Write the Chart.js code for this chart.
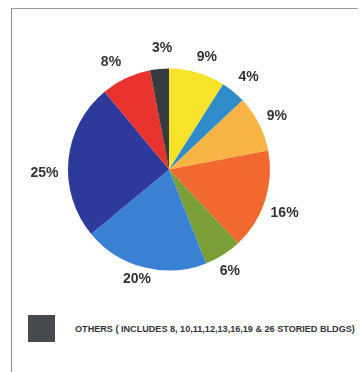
<!DOCTYPE html>
<html>
<head>
<meta charset="utf-8">
<script src="https://cdn.jsdelivr.net/npm/chart.js@4/dist/chart.umd.min.js"></script>
<style>
    body { margin: 0; background: #fff; }
    #wrap { position: relative; width: 360px; height: 372px; overflow: hidden; }
    #frame {
        position: absolute; left: 11px; top: 8px; width: 346px; height: 370px;
        border-top: 1px solid #9a9aa4; border-left: 1px solid #8c8c96;
    }
    #pieBox { position: absolute; left: 0; top: 0; width: 360px; height: 300px; }
    #legend {
        position: absolute; left: 28px; top: 315px; height: 27px;
        display: flex; align-items: center;
        font-family: "Liberation Sans", Arial, sans-serif; font-weight: bold;
        font-size: 9.1px; color: #333338; white-space: nowrap;
    }
    #legend .box { width: 27px; height: 27px; margin-right: 20px; }
</style>
</head>
<body>
<div id="wrap">
    <div id="frame"></div>
    <div id="pieBox"><canvas id="pie"></canvas></div>
    <div id="legend"></div>
</div>
<script>
let labels = ['Group 1', 'Group 2', 'Group 3', 'Group 4', 'Group 5', 'Group 6', 'Group 7', 'Group 8', 'Others']
let values = [9, 4, 9, 16, 6, 20, 25, 8, 3]
let colors = ['#f6e32a', '#2f8bc9', '#f8b545', '#f1692e', '#7a9f36', '#3b81d3', '#2d3a9c', '#e8322e', '#363b40']
let legendText = 'OTHERS ( INCLUDES  8, 10,11,12,13,16,19 & 26 STORIED BLDGS)'

// hand nudges for the percent labels (px), slice order
const labelNudge = [[4, 4], [2.5, 0.5], [0, 1.5], [0.5, 6], [-4, -1], [-2, -8], [-4, 15], [-6.5, 2], [4.5, -1]]

// percent labels sitting just outside each slice
const outsideLabels = {
    id: 'outsideLabels',
    afterDatasetsDraw(chart) {
        const ctx = chart.ctx
        const meta = chart.getDatasetMeta(0)
        ctx.save()
        ctx.font = 'bold 14px "Liberation Sans", Arial, sans-serif'
        ctx.fillStyle = '#333338'
        ctx.textAlign = 'center'
        ctx.textBaseline = 'middle'
        meta.data.forEach((arc, i) => {
            const p = arc.getProps(['x', 'y', 'startAngle', 'endAngle', 'outerRadius'], true)
            const mid = (p.startAngle + p.endAngle) / 2
            const r = p.outerRadius + 20
            const n = labelNudge[i] || [0, 0]
            ctx.fillText(values[i] + '%', p.x + Math.cos(mid) * r + n[0], p.y + Math.sin(mid) * r + n[1])
        })
        ctx.restore()
    }
}

let pieCtx = document.getElementById('pie').getContext('2d')

let pieChart = new Chart(pieCtx, {
    type: 'pie',
    data: {
        labels: labels,
        datasets: [{
            data: values,
            backgroundColor: colors,
            borderWidth: 0
        }]
    },
    options: {
        responsive: true,
        maintainAspectRatio: false,
        animation: false,
        radius: 101,
        layout: {
            padding: { left: 12, right: 34, top: 39, bottom: 0 }
        },
        plugins: {
            legend: { display: false },
            tooltip: { enabled: false }
        }
    },
    plugins: [outsideLabels]
})

// only the last group gets a legend entry
let legend = document.getElementById('legend')
let last = labels.length - 1
legend.innerHTML = `<div class="box" style="background:${colors[last]};opacity:0.92"></div><span>${legendText}</span>`
</script>
</body>
</html>
